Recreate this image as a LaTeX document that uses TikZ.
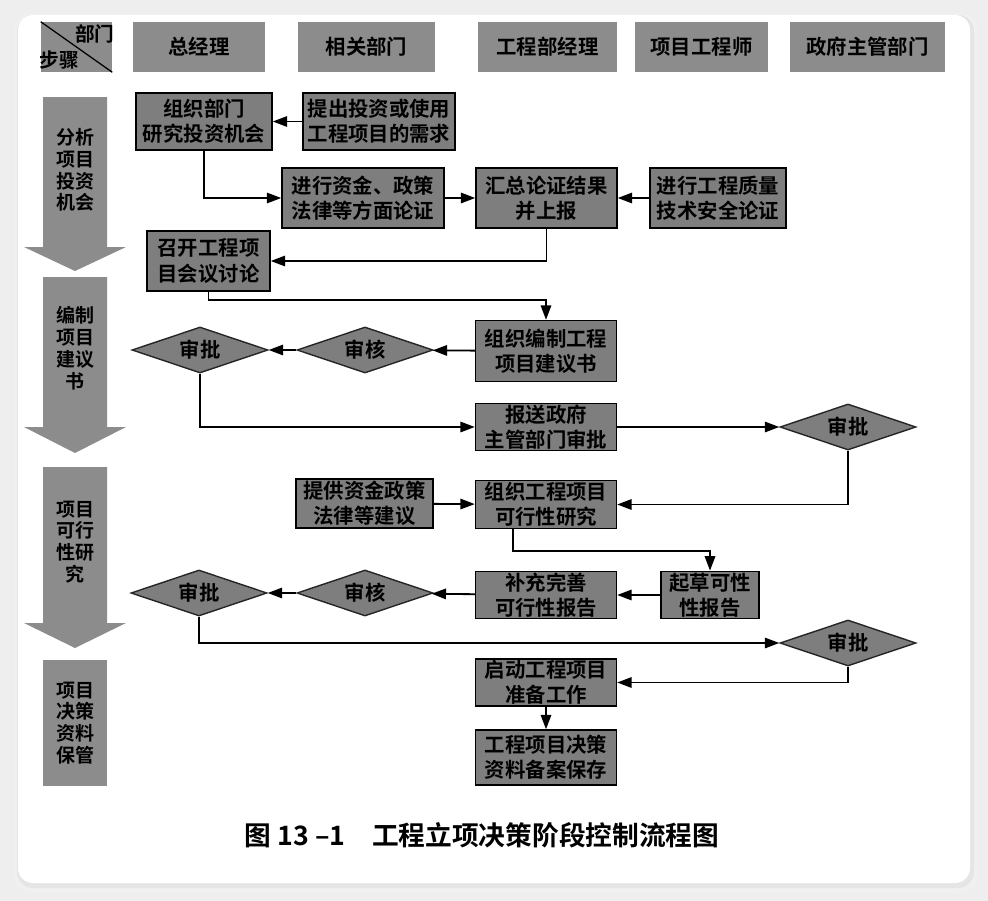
\documentclass[tikz,border=0pt]{standalone}
\usepackage{fontspec}
\setmainfont{Noto Sans CJK SC}[BoldFont={Noto Sans CJK SC Bold}]
\usetikzlibrary{shapes.geometric, arrows.meta, calc}
\usepackage{xcolor}
\definecolor{boxGray}{RGB}{126,126,126}
\definecolor{hdGray}{RGB}{140,140,140}
\definecolor{pageBg}{RGB}{238,238,238}
\tikzset{
    >={Triangle[length=3.6mm,width=2.6mm]},
    % Shapes
    proc/.style={rectangle, draw=black, line width=1pt, fill=boxGray, align=center,
                 inner sep=1pt, font=\fontsize{14.5}{18}\selectfont\bfseries},
    hdr/.style={rectangle, fill=hdGray, minimum height=1.25cm, align=center,
                inner sep=1pt, font=\fontsize{14.5}{17}\selectfont\bfseries},
    check/.style={diamond, aspect=2.9, draw=black!85, line width=1pt, fill=boxGray,
                  inner sep=0pt, minimum width=3.4cm, minimum height=1.15cm,
                  font=\fontsize{14.5}{17}\selectfont\bfseries},
    phase/.style={fill=hdGray},
    phaseLbl/.style={align=center, inner sep=1pt, font=\fontsize{13.5}{15.5}\selectfont\bfseries},
    % Flow
    flow/.style={->, line width=1.3pt, black}
}

\begin{document}
\begin{tikzpicture}[x=0.025cm, y=-0.025cm]

\useasboundingbox (0,0) rectangle (988,901);
\fill[pageBg] (0,0) rectangle (988,901);
\fill[black!6, rounded corners=0.45cm] (14,13) rectangle (978,893);
\fill[black!10, rounded corners=0.4cm] (17,15) rectangle (974,888);
\fill[white, rounded corners=0.375cm] (18,15) rectangle (970,883);

% Header row
\node[hdr, minimum width=1.775cm] (corner) at (76.5,47) {};
\draw[line width=0.9pt] (corner.north west) -- (corner.south east);
\node[inner sep=0pt, font=\fontsize{14}{15}\selectfont\bfseries] (cornerTop) at (95,34) {部门};
\node[inner sep=0pt, font=\fontsize{14}{15}\selectfont\bfseries] (cornerBot) at (59,60) {步骤};
\node[hdr, minimum width=3.3cm] (gm) at (199,47) {总经理};
\node[hdr, minimum width=3.425cm] (rel) at (366.5,47) {相关部门};
\node[hdr, minimum width=3.475cm] (eng) at (547.5,47) {工程部经理};
\node[hdr, minimum width=3.325cm] (pe) at (701.5,47) {项目工程师};
\node[hdr, minimum width=3.875cm] (gov) at (867.5,47) {政府主管部门};

% Stage arrows
\fill[phase] (43,97) -- (107,97) -- (107,247) -- (126,247) -- (75,271) -- (24,247) -- (43,247) -- cycle;
\fill[phase] (43,277) -- (107,277) -- (107,427) -- (126,427) -- (75,453) -- (24,427) -- (43,427) -- cycle;
\fill[phase] (43,467) -- (107,467) -- (107,623) -- (126,623) -- (75,648) -- (24,623) -- (43,623) -- cycle;
\node[phaseLbl] (s1) at (75,170) {分析\\项目\\投资\\机会};
\node[phaseLbl] (s2) at (75,348) {编制\\项目\\建议\\书};
\node[phaseLbl] (s3) at (75,542) {项目\\可行\\性研\\究};
\node[phaseLbl, phase, minimum width=1.6cm, minimum height=3.15cm] (s4) at (75,723) {项目\\决策\\资料\\保管};

% Boxes
\node[proc, minimum width=3.4cm, minimum height=1.425cm] (a1) at (204,121.5) {组织部门\\研究投资机会};
\node[proc, minimum width=3.8cm, minimum height=1.425cm] (a2) at (379,121.5) {提出投资或使用\\工程项目的需求};
\node[proc, minimum width=4.05cm, minimum height=1.5cm] (b1) at (363,198) {进行资金、政策\\法律等方面论证};
\node[proc, minimum width=3.525cm, minimum height=1.5cm] (b2) at (546.5,198) {汇总论证结果\\并上报};
\node[proc, minimum width=3.4cm, minimum height=1.5cm] (b3) at (718,198) {进行工程质量\\技术安全论证};
\node[proc, minimum width=3.075cm, minimum height=1.5cm] (c1) at (208.5,261) {召开工程项\\目会议讨论};
\node[proc, minimum width=3.525cm, minimum height=1.525cm] (d1) at (546,351) {组织编制工程\\项目建议书};
\node[check] (k1) at (365,350) {审核};
\node[check] (p1) at (200,350) {审批};
\node[proc, minimum width=3.525cm, minimum height=1.175cm] (e1) at (546,427) {报送政府\\主管部门审批};
\node[check] (p2) at (848,427) {审批};
\node[proc, minimum width=3.425cm, minimum height=1.225cm] (f0) at (364.5,503.5) {提供资金政策\\法律等建议};
\node[proc, minimum width=3.525cm, minimum height=1.2cm] (f1) at (546,504.5) {组织工程项目\\可行性研究};
\node[proc, minimum width=3.525cm, minimum height=1.15cm] (g1) at (546,595) {补充完善\\可行性报告};
\node[proc, minimum width=2.45cm, minimum height=1.15cm] (g2) at (710,595) {起草可性\\性报告};
\node[check] (k2) at (365,593) {审核};
\node[check] (p3) at (199,593) {审批};
\node[check] (p4) at (848,643) {审批};
\node[proc, minimum width=3.525cm, minimum height=1.175cm] (h1) at (546,682.5) {启动工程项目\\准备工作};
\node[proc, minimum width=3.525cm, minimum height=1.375cm] (h2) at (546,757.5) {工程项目决策\\资料备案保存};

% Connectors
\draw[flow] (a2) -- (a1);
\draw[flow] (a1.south) |- (b1);
\draw[flow] (b1) -- (b2);
\draw[flow] (b3) -- (b2);
\draw[flow] (b2.south) |- (c1);
\draw[flow] (c1.south) -- ++(0,8) -| (d1.north);
\draw[flow] (d1) -- (k1);
\draw[flow] (k1) -- (p1);
\draw[flow] (p1.south) |- (e1);
\draw[flow] (e1) -- (p2);
\draw[flow] (p2.south) |- (f1);
\draw[flow] (f0) -- (f1);
\draw[flow] ([xshift=-0.825cm]f1.south) -- ++(0,22) -| (g2.north);
\draw[flow] (g2) -- (g1);
\draw[flow] (g1) -- (k2);
\draw[flow] (k2) -- (p3);
\draw[flow] (p3.south) |- (p4);
\draw[flow] (p4.south) |- (h1);
\draw[flow] (h1) -- (h2);

% Caption
\node[font=\fontsize{19}{22}\selectfont\bfseries] (title) at (482,835) {图 13 –1\quad 工程立项决策阶段控制流程图};

\end{tikzpicture}
\end{document}
